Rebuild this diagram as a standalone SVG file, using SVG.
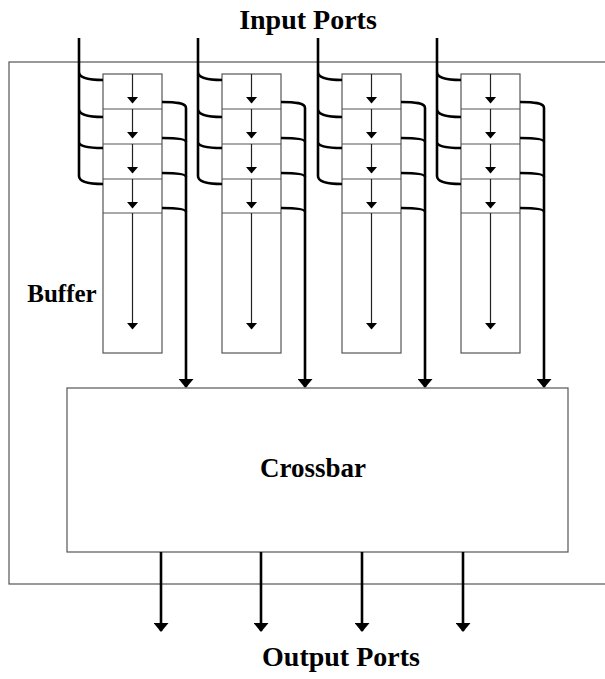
<svg xmlns="http://www.w3.org/2000/svg" width="605" height="679" viewBox="0 0 605 679">
<style>
.box{fill:#fff;stroke:#555;stroke-width:1.2}
.thin{fill:none;stroke:#222;stroke-width:1.2}
.thick{fill:none;stroke:#000;stroke-width:2.6}
.lbl{font-family:"Liberation Serif","Times New Roman",serif;font-weight:bold;fill:#000}
</style>
<defs>
<marker id="ah" markerWidth="9" markerHeight="15" refX="8" refY="7.5" orient="auto" markerUnits="userSpaceOnUse"><path d="M0,0 L9,7.5 L0,15 Z" fill="#000"/></marker>
<marker id="as" markerWidth="7" markerHeight="12" refX="6.5" refY="6" orient="auto" markerUnits="userSpaceOnUse"><path d="M0,0 L7,6 L0,12 Z" fill="#000"/></marker>
<g id="col">
<rect class="box" x="103" y="74" width="59" height="279"/>
<line class="box" x1="103" y1="109" x2="162" y2="109"/>
<line class="box" x1="103" y1="144" x2="162" y2="144"/>
<line class="box" x1="103" y1="179" x2="162" y2="179"/>
<line class="box" x1="103" y1="213" x2="162" y2="213"/>
<line class="thin" x1="132.5" y1="74" x2="132.5" y2="103" marker-end="url(#as)"/>
<line class="thin" x1="132.5" y1="109" x2="132.5" y2="138" marker-end="url(#as)"/>
<line class="thin" x1="132.5" y1="144" x2="132.5" y2="173" marker-end="url(#as)"/>
<line class="thin" x1="132.5" y1="179" x2="132.5" y2="208" marker-end="url(#as)"/>
<line class="thin" x1="132.5" y1="213" x2="132.5" y2="329" marker-end="url(#as)"/>
<path class="thick" d="M79,38 V176 C79,182 90,184 103,184 M79,72 C79,78 90,80 103,80 M79,109 C79,115 90,117 103,117 M79,142 C79,147 90,148 103,148"/>
<path class="thick" d="M162,138 C176,138 186,139 186,142 M162,173 C176,173 186,174 186,177 M162,208 C176,208 186,209 186,212"/>
<path class="thick" d="M162,102 C176,102 186,103 186,108 V387" marker-end="url(#ah)"/>
</g>
</defs>
<rect class="box" x="9" y="62" width="610" height="522"/>
<g id="buffer1"><use href="#col"/></g>
<g id="buffer2"><use href="#col" transform="translate(119,0)"/></g>
<g id="buffer3"><use href="#col" transform="translate(239,0)"/></g>
<g id="buffer4"><use href="#col" transform="translate(358,0)"/></g>
<g id="crossbar">
<rect class="box" x="67" y="388" width="501" height="164"/>
<text class="lbl" x="313" y="477" font-size="27" text-anchor="middle">Crossbar</text>
</g>
<g id="connectors">
<line class="thick" x1="161" y1="552" x2="161" y2="631" marker-end="url(#ah)"/>
<line class="thick" x1="261" y1="552" x2="261" y2="631" marker-end="url(#ah)"/>
<line class="thick" x1="362" y1="552" x2="362" y2="631" marker-end="url(#ah)"/>
<line class="thick" x1="463" y1="552" x2="463" y2="631" marker-end="url(#ah)"/>
</g>
<text class="lbl" x="308" y="29" font-size="28" text-anchor="middle">Input Ports</text>
<text class="lbl" x="62" y="302" font-size="25" text-anchor="middle">Buffer</text>
<text class="lbl" x="341" y="666" font-size="28" text-anchor="middle">Output Ports</text>
</svg>
